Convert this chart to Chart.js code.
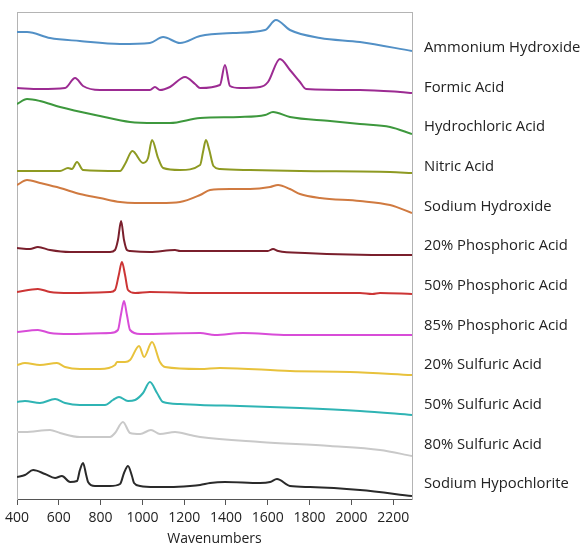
<!DOCTYPE html>
<html>
<head>
<meta charset="utf-8">
<script src="https://cdn.jsdelivr.net/npm/chart.js@4/dist/chart.umd.min.js"></script>
<style>
  html, body { margin: 0; padding: 0; background: #fff; }
  #wrap { width: 582px; height: 547px; }
</style>
</head>
<body>
<div id="wrap"><canvas id="chart"></canvas></div>
<script>
// wavenumber (cm-1), stacked intensity
const ammoniumHydroxide = [[400,467],[448,467],[558,461],[701,458],[893,455],[1036,456],[1099,462],[1180,456],[1276,463],[1434,466],[1587,469],[1639,479],[1706,469],[1850,461],[2041,457],[2290,448]];
const formicAcid = [[400,411],[510,410],[630,411],[678,421],[716,413],[797,409],[1036,409],[1060,412],[1084,409],[1132,412],[1204,422],[1252,415],[1276,411],[1371,414],[1395,434],[1419,413],[1467,411],[1563,412],[1601,417],[1658,440],[1706,429],[1754,417],[1783,410],[2041,409],[2233,407],[2290,406]];
const hydrochloricAcid = [[400,395],[448,400],[510,398],[606,392],[797,383],[941,377],[1060,376],[1132,376],[1276,381],[1467,382],[1587,384],[1625,387],[1706,382],[1898,378],[2041,375],[2185,372],[2290,365]];
const nitricAcid = [[400,328],[606,328],[644,331],[663,330],[687,337],[716,329],[893,328],[917,335],[952,348],[1003,336],[1027,341],[1046,359],[1075,341],[1099,331],[1180,329],[1276,334],[1290,347],[1304,359],[1320,349],[1340,333],[1371,330],[1515,329],[1754,328],[2185,327],[2290,326]];
const sodiumHydroxide = [[400,314],[448,319],[510,316],[606,311],[701,305],[797,301],[893,297],[965,296],[1084,296],[1180,297],[1276,304],[1324,309],[1419,310],[1515,310],[1611,312],[1649,314],[1706,310],[1754,305],[1850,301],[2041,298],[2185,294],[2290,286]];
const phosphoric20 = [[400,251],[462,250],[500,252],[558,249],[654,247],[845,247],[869,249],[883,259],[898,278],[912,259],[926,249],[941,248],[1036,247],[1156,249],[1180,248],[1600,248],[1625,250],[1650,248],[1778,246],[2209,244],[2290,244]];
const phosphoric50 = [[400,207],[500,210],[558,207],[654,206],[845,207],[869,209],[887,224],[902,237],[917,224],[931,209],[965,206],[1036,207],[1276,206],[2041,206],[2100,205],[2137,206],[2290,205]];
const phosphoric85 = [[400,167],[500,169],[558,166],[654,165],[845,166],[883,169],[897,184],[912,198],[926,184],[941,169],[989,165],[1276,166],[1347,164],[1481,166],[1697,164],[2290,164]];
const sulfuric20 = [[400,134],[438,136],[510,134],[591,136],[630,132],[701,130],[797,130],[869,134],[879,137],[917,137],[941,139],[984,153],[1008,142],[1046,157],[1084,137],[1108,132],[1276,130],[1371,131],[1706,128],[1993,127],[2290,124]];
const sulfuric50 = [[400,97],[438,98],[510,96],[582,100],[630,96],[701,94],[821,94],[859,99],[888,102],[931,98],[965,99],[1003,106],[1036,117],[1070,106],[1099,97],[1180,95],[1276,94],[1467,93],[1754,91],[2041,88],[2290,84]];
const sulfuric80 = [[400,67],[438,67],[558,69],[606,66],[701,62],[845,62],[869,66],[907,77],[941,66],[989,65],[1041,69],[1084,65],[1156,67],[1228,64],[1276,62],[1563,57],[1898,53],[2137,49],[2290,43]];
const sodiumHypochlorite = [[400,22],[438,24],[477,29],[534,25],[582,21],[615,23],[654,17],[687,18],[701,29],[716,36],[731,24],[740,17],[773,13],[845,13],[893,15],[912,26],[931,33],[950,23],[960,16],[989,13],[1060,12],[1132,12],[1228,13],[1276,14],[1324,16],[1395,17],[1563,16],[1611,17],[1644,20],[1706,13],[1802,12],[2041,9],[2290,3]];

const seriesNames = ["Ammonium Hydroxide", "Formic Acid", "Hydrochloric Acid", "Nitric Acid", "Sodium Hydroxide",
  "20% Phosphoric Acid", "50% Phosphoric Acid", "85% Phosphoric Acid", "20% Sulfuric Acid", "50% Sulfuric Acid",
  "80% Sulfuric Acid", "Sodium Hypochlorite"];
const seriesData = [ammoniumHydroxide, formicAcid, hydrochloricAcid, nitricAcid, sodiumHydroxide, phosphoric20,
  phosphoric50, phosphoric85, sulfuric20, sulfuric50, sulfuric80, sodiumHypochlorite];
const colors = ["#5290c6", "#9c2b92", "#3d983d", "#8e9a22", "#d07a40", "#7a1f2c",
  "#cc3535", "#d84cd8", "#e8c23c", "#2fb4b4", "#c9c9c9", "#2a2a2a"];
const xTicks = [400, 600, 800, 1000, 1200, 1400, 1600, 1800, 2000, 2200];

const frame = "#b4b4b4";
const font = { family: "'Open Sans', sans-serif", size: 14 };
const nameFont = { family: "'Open Sans', sans-serif", size: 14.8 };

const ctx = document.getElementById("chart").getContext("2d");
const chart = new Chart(ctx, {
  type: "line",
  data: {
    datasets: seriesData.map((s, i) => ({
      label: seriesNames[i],
      data: s.map(p => ({ x: p[0], y: p[1] })),
      borderColor: colors[i],
      borderWidth: 2,
      pointRadius: 0,
      cubicInterpolationMode: "monotone",
    })),
  },
  options: {
    responsive: true,
    maintainAspectRatio: false,
    animation: false,
    layout: { padding: { left: 17, top: 12, right: 0, bottom: 0 } },
    scales: {
      x: {
        type: "linear",
        position: "bottom",
        min: 400,
        max: 2290,
        afterBuildTicks: (scale) => { scale.ticks = xTicks.map(v => ({ value: v })); },
        afterFit: (scale) => { scale.height = 48; },
        ticks: { color: "#222", font: font, padding: 5, maxRotation: 0, callback: (v) => String(v) },
        grid: { display: true, drawOnChartArea: false, tickLength: 6, color: "#555" },
        border: { color: "#555" },
        title: { display: true, text: "Wavenumbers", color: "#222", font: font, padding: { top: 0, bottom: 0 } },
      },
      xTop: {
        type: "linear",
        position: "top",
        min: 400,
        max: 2290,
        ticks: { display: false },
        grid: { display: false },
        border: { color: frame },
        afterFit: (scale) => { scale.height = 0; },
      },
      y: {
        position: "left",
        min: 0,
        max: 487,
        ticks: { display: false },
        grid: { display: false },
        border: { color: frame },
        afterFit: (scale) => { scale.width = 0; },
      },
      names: {
        position: "right",
        min: 0,
        max: 487,
        afterBuildTicks: (scale) => { scale.ticks = seriesNames.map((n, i) => ({ value: 451 - i * 39.64 })); },
        afterFit: (scale) => {
          scale.width = 170;
          scale.paddingTop = 0;
          scale.paddingBottom = 0;
        },
        ticks: {
          color: "#222",
          font: nameFont,
          padding: 12,
          callback: (value, index) => seriesNames[index],
        },
        grid: { display: false, drawTicks: false },
        border: { color: frame },
      },
    },
    plugins: {
      legend: { display: false },
      tooltip: { enabled: false },
    },
  },
});
</script>
</body>
</html>
